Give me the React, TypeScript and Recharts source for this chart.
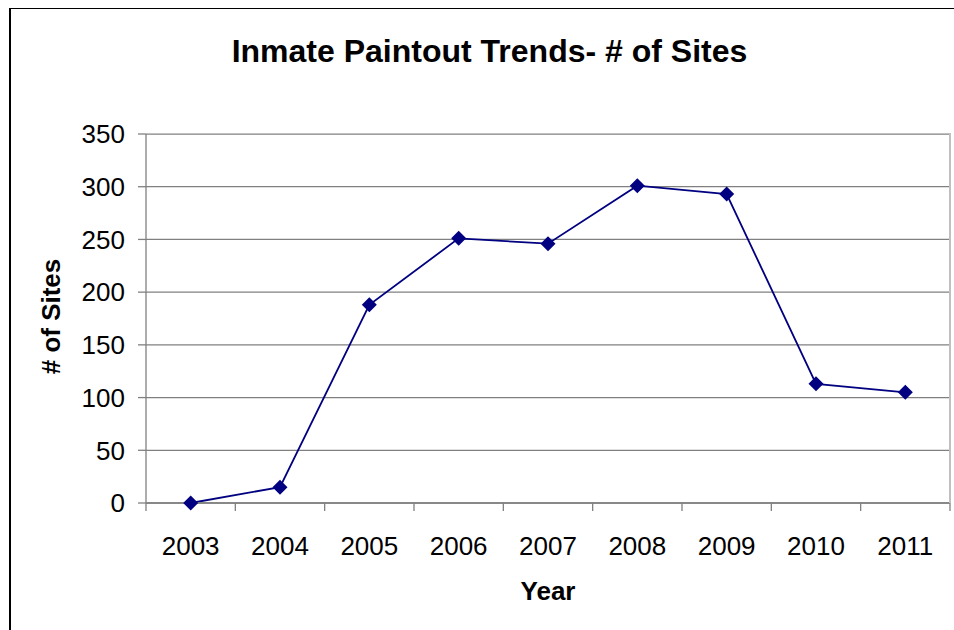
import React from "react";
import { LineChart, Line, XAxis, YAxis, CartesianGrid } from "recharts";

const years = ["2003", "2004", "2005", "2006", "2007", "2008", "2009", "2010", "2011"];
const sites = [0, 15, 188, 251, 246, 301, 293, 113, 105];
const yTicks = [0, 50, 100, 150, 200, 250, 300, 350];

const chartData = years.map((year, i) => ({ year, sites: sites[i] }));

const FONT = '"Liberation Sans", Arial, Helvetica, sans-serif';
const PLOT_W = 804;
const HALF_BAND = PLOT_W / years.length / 2;

const YearTick = (props: any) => {
  const { x, y, payload } = props;
  const last = payload.value === years[years.length - 1];
  return (
    <g>
      <line x1={x - HALF_BAND} x2={x - HALF_BAND} y1={y - 8} y2={y} stroke="#808080" strokeWidth={1.3} />
      {last && (
        <line x1={x + HALF_BAND} x2={x + HALF_BAND} y1={y - 8} y2={y} stroke="#808080" strokeWidth={1.3} />
      )}
      <text x={x} y={y + 44} textAnchor="middle" fontSize={26} fontFamily={FONT} fill="#000">
        {payload.value}
      </text>
    </g>
  );
};

const Diamond = (props: any) => {
  const { cx, cy, index } = props;
  const r = 7.5;
  return (
    <path
      key={`dot-${index}`}
      d={`M${cx},${cy - r}L${cx + r},${cy}L${cx},${cy + r}L${cx - r},${cy}Z`}
      fill="#000080"
    />
  );
};

export default function App() {
  return (
    <div
      style={{
        position: "relative",
        width: 954,
        height: 630,
        overflow: "hidden",
        background: "#fff",
        fontFamily: FONT,
      }}
    >
      <style>{`body { margin: 0; }`}</style>
      {/* outer chart-area frame, runs off the right and bottom of the picture */}
      <div
        style={{
          position: "absolute",
          left: 9,
          top: 8,
          width: 945,
          height: 622,
          borderTop: "1.5px solid #000",
          borderLeft: "2px solid #000",
          boxSizing: "border-box",
        }}
      />
      <div
        style={{
          position: "absolute",
          left: 25,
          top: 35,
          width: 929,
          textAlign: "center",
          fontSize: 32,
          lineHeight: "32px",
          fontWeight: "bold",
          color: "#000",
        }}
      >
        Inmate Paintout Trends- # of Sites
      </div>
      <LineChart
        width={954}
        height={630}
        data={chartData}
        margin={{ top: 134, right: 4, left: 26, bottom: 27 }}
      >
        <CartesianGrid vertical={false} stroke="#808080" strokeWidth={1.3} />
        <XAxis
          dataKey="year"
          interval={0}
          height={100}
          padding={{ left: HALF_BAND, right: HALF_BAND }}
          tickLine={false}
          tickSize={8}
          tickMargin={0}
          axisLine={{ stroke: "#808080", strokeWidth: 1.3 }}
          tick={<YearTick />}
          label={{
            content: ({ viewBox }: any) => (
              <text
                x={viewBox.x + viewBox.width / 2}
                y={viewBox.y + 97}
                textAnchor="middle"
                fontSize={26}
                fontWeight="bold"
                fontFamily={FONT}
                fill="#000"
              >
                Year
              </text>
            ),
          }}
        />
        <YAxis
          width={120}
          domain={[0, 350]}
          ticks={yTicks}
          interval={0}
          tickSize={8}
          tickMargin={13}
          tickLine={{ stroke: "#808080", strokeWidth: 1.3 }}
          axisLine={{ stroke: "#808080", strokeWidth: 1.3 }}
          tick={{ fontSize: 26, fill: "#000", fontFamily: FONT }}
          label={{
            content: ({ viewBox }: any) => {
              const cx = viewBox.x + 25;
              const cy = viewBox.y + viewBox.height / 2 - 2;
              return (
                <text
                  x={cx}
                  y={cy}
                  transform={`rotate(-90 ${cx} ${cy})`}
                  textAnchor="middle"
                  dominantBaseline="central"
                  fontSize={26}
                  fontWeight="bold"
                  fontFamily={FONT}
                  fill="#000"
                >
                  # of Sites
                </text>
              );
            },
          }}
        />
        <Line
          type="linear"
          dataKey="sites"
          stroke="#000080"
          strokeWidth={1.8}
          dot={Diamond}
          activeDot={false}
          isAnimationActive={false}
        />
      </LineChart>
      {/* light plot frame: top and right edges */}
      <div
        style={{
          position: "absolute",
          left: 146,
          top: 133,
          width: 805,
          height: 370,
          borderTop: "1.5px solid #c0c0c0",
          borderRight: "2px solid #c0c0c0",
          boxSizing: "border-box",
          pointerEvents: "none",
        }}
      />
    </div>
  );
}
